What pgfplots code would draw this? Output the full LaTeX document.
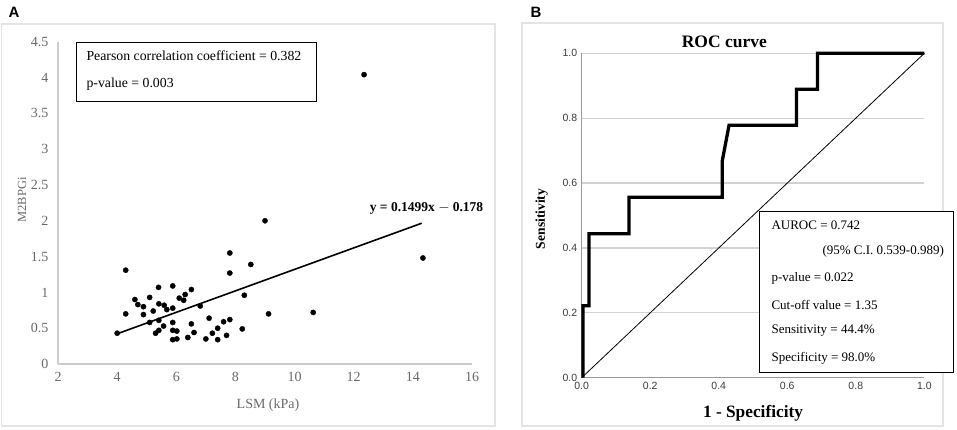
\documentclass[border=0pt]{standalone}
\usepackage{fontspec}
\setmainfont{Liberation Serif}
\newfontfamily\arial{Liberation Sans}
\usepackage{pgfplots}
\pgfplotsset{compat=1.18}
\definecolor{framegray}{RGB}{228,228,228}
\definecolor{axgray}{RGB}{205,205,205}
\definecolor{tickgray}{RGB}{105,105,105}
\definecolor{gridgray}{RGB}{210,210,210}
\definecolor{btick}{RGB}{60,60,60}
\begin{document}
\begin{tikzpicture}[x=1pt,y=1pt]
\useasboundingbox (0,0) rectangle (957,429);
\draw[framegray, line width=1.5pt] (1.5,3) rectangle (495,405);
\draw[framegray, line width=1.5pt] (522,3) rectangle (943,406);
\node[font=\arial\bfseries\fontsize{15}{15}\selectfont] at (14,417) {A};
\node[font=\arial\bfseries\fontsize{15}{15}\selectfont] at (536,417) {B};

% ---------------- Panel A ----------------
\begin{axis}[
  at={(58pt,65pt)}, anchor=south west, scale only axis,
  width=414pt, height=322.3pt,
  xmin=2, xmax=16, ymin=0, ymax=4.5,
  xtick={2,4,6,8,10,12,14,16},
  ytick={0,0.5,1,1.5,2,2.5,3,3.5,4,4.5},
  axis lines*=left,
  axis line style={draw=axgray, line width=1.2pt},
  major tick length=0pt,
  /pgf/number format/assume math mode=true,
  yticklabel style={/pgf/number format/fixed, font=\fontsize{14}{14}\selectfont, text=tickgray, xshift=-6pt},
  xticklabel style={font=\fontsize{14}{14}\selectfont, text=tickgray, yshift=-5pt},
  clip=false,
]
\addplot[only marks, mark=*, mark size=2.6pt, black] coordinates {
(12.35,4.04) (9.0,2.0) (7.81,1.55) (8.52,1.39) (14.34,1.48) (7.81,1.27)
(4.29,1.31) (5.4,1.07) (5.88,1.09) (6.51,1.04) (6.3,0.97) (6.1,0.92)
(6.25,0.89) (8.3,0.96) (5.1,0.93) (4.6,0.90) (4.7,0.83) (4.89,0.80)
(5.41,0.84) (5.59,0.82) (5.68,0.76) (5.88,0.78) (6.81,0.81) (5.22,0.74)
(4.29,0.70) (4.89,0.69) (9.12,0.70) (10.63,0.72) (7.11,0.64) (7.81,0.62)
(7.6,0.59) (5.1,0.58) (5.41,0.61) (5.88,0.58) (6.51,0.56) (5.57,0.53)
(7.4,0.50) (8.23,0.49) (5.41,0.47) (5.3,0.43) (5.88,0.47) (6.02,0.46)
(6.6,0.44) (7.22,0.43) (7.7,0.40) (6.39,0.37) (7.0,0.35) (7.4,0.34)
(5.88,0.34) (6.02,0.35) (4.0,0.43)
};
\addplot[black, line width=1.6pt] coordinates {(4.0,0.4216) (14.3,1.9656)};
\end{axis}
\draw[black, line width=0.9pt, fill=white] (76,328) rectangle (316,387);
\node[anchor=west, font=\fontsize{13.8}{13.8}\selectfont] at (83,373) {Pearson correlation coefficient = 0.382};
\node[anchor=west, font=\fontsize{13.8}{13.8}\selectfont] at (83,345) {p-value = 0.003};
\node[fill=white, inner sep=2pt, font=\bfseries\fontsize{13.5}{13.5}\selectfont] at (426.5,221) {y = 0.1499x $-$ 0.178};
\node[rotate=90, text=tickgray, font=\fontsize{12.5}{12.5}\selectfont] at (22,229) {M2BPGi};
\node[text=tickgray, font=\fontsize{14}{14}\selectfont] at (268,24) {LSM (kPa)};

% ---------------- Panel B ----------------
\begin{axis}[
  at={(581.7pt,51.3pt)}, anchor=south west, scale only axis,
  width=342.6pt, height=324.4pt,
  xmin=0, xmax=1, ymin=0, ymax=1,
  xtick={0,0.2,0.4,0.6,0.8,1},
  ytick={0,0.2,0.4,0.6,0.8,1},
  axis lines*=left,
  axis line style={draw=gray!80, line width=1pt},
  ymajorgrids, major grid style={draw=gridgray, line width=1.2pt},
  major tick length=0pt,
  /pgf/number format/assume math mode=true,
  /pgf/number format/fixed, /pgf/number format/zerofill, /pgf/number format/precision=1,
  yticklabel style={font=\arial\fontsize{10.5}{10.5}\selectfont, text=btick, xshift=-1pt},
  xticklabel style={font=\arial\fontsize{10.5}{10.5}\selectfont, text=btick, yshift=-1pt},
  clip=false,
]
\addplot[black, line width=0.8pt] coordinates {(0,0) (1,1)};
\addplot[black, line width=3.3pt, line join=miter] coordinates {
(0.004,0) (0.004,0.222) (0.021,0.222) (0.021,0.444) (0.138,0.444) (0.138,0.556)
(0.41,0.556) (0.41,0.667) (0.43,0.778) (0.627,0.778) (0.627,0.889)
(0.688,0.889) (0.688,1) (1,1)};
\end{axis}
\node[font=\bfseries\fontsize{17.5}{17.5}\selectfont] at (724.3,387) {ROC curve};
\node[font=\bfseries\fontsize{17.3}{17.3}\selectfont] at (753,16) {1 - Specificity};
\node[rotate=90, font=\bfseries\fontsize{13.5}{13.5}\selectfont] at (541.7,210) {Sensitivity};
\draw[black, line width=0.9pt, fill=white] (759.3,56.7) rectangle (953.7,217.7);
\begin{scope}[every node/.style={anchor=west, font=\fontsize{13}{13}\selectfont}]
\node at (768,204) {AUROC = 0.742};
\node at (819,177.3) {(95\% C.I. 0.539-0.989)};
\node at (768,151) {p-value = 0.022};
\node at (768,124.3) {Cut-off value = 1.35};
\node at (768,98) {Sensitivity = 44.4\%};
\node at (768,71) {Specificity = 98.0\%};
\end{scope}
\end{tikzpicture}
\end{document}
